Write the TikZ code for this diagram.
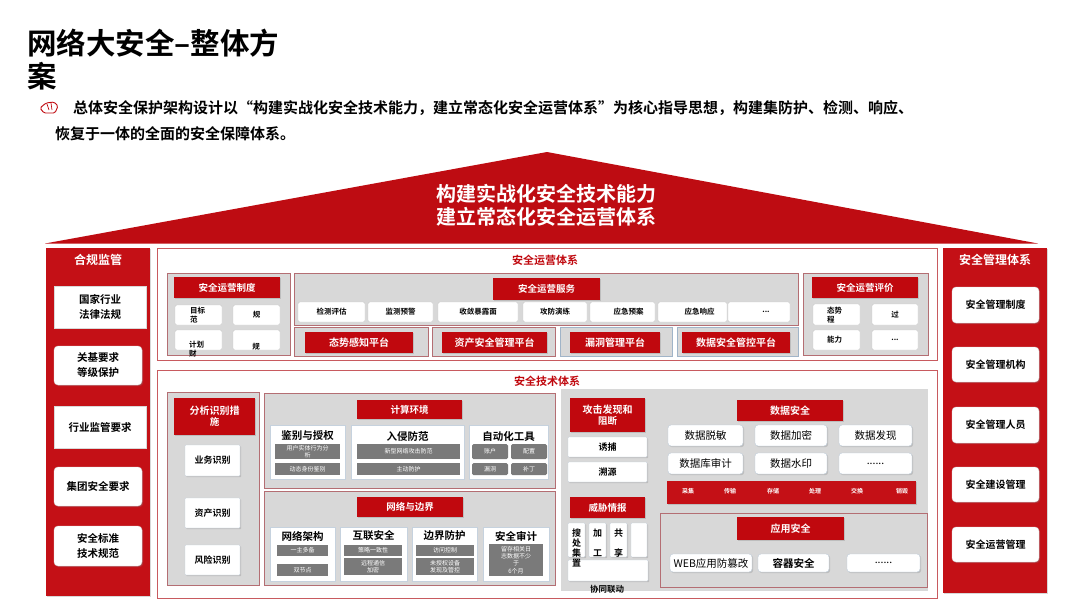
\documentclass[tikz,border=0pt]{standalone}
\usepackage{fontspec}
\setmainfont{Noto Sans CJK SC}[BoldFont={Noto Sans CJK SC Bold}]
\usetikzlibrary{shadows}
\definecolor{hred}{RGB}{192,8,14}
\definecolor{colred}{RGB}{196,16,22}
\definecolor{roofred}{RGB}{190,12,18}
\definecolor{pgray}{RGB}{216,216,216}
\definecolor{pborder}{RGB}{180,110,115}
\definecolor{outred}{RGB}{200,90,95}
\definecolor{dgray}{RGB}{122,122,122}
\definecolor{bluegray}{RGB}{160,180,200}
\newcommand\bx[7]{\node[#1,inner sep=0pt,minimum width={#5-#3},minimum height={#6-#4}] (#2) at ({(#3+#5)/2},{(#4+#6)/2}) {#7};}
\tikzset{
  shd/.style={drop shadow={opacity=0.3,shadow xshift=1.2pt,shadow yshift=-1.2pt}},
  colbox/.style={fill=colred,draw=none,shd},
  coltitle/.style={text=white,inner sep=0pt,font=\bfseries\fontsize{12}{14}\selectfont},
  wcol/.style={fill=white,draw=gray!30,rounded corners=4pt,shd,align=center,font=\bfseries\fontsize{10.5}{15}\selectfont},
  wcolsq/.style={wcol,rounded corners=0pt},
  wcolr/.style={wcol,font=\bfseries\fontsize{10}{12}\selectfont},
  mainpanel/.style={fill=white,draw=outred,line width=0.8pt},
  panel/.style={fill=pgray,draw=pborder,line width=0.9pt},
  bpanel/.style={fill=pgray,draw=bluegray,line width=0.9pt},
  graybg/.style={fill=pgray,draw=none},
  sectitle/.style={text=hred,inner sep=0pt,font=\bfseries\fontsize{11}{13}\selectfont},
  hdr/.style={fill=hred,text=white,shd,align=center,font=\bfseries\fontsize{9.5}{11}\selectfont},
  plat/.style={hdr,font=\bfseries\fontsize{10}{12}\selectfont},
  wbox/.style={fill=white,draw=gray!40,rounded corners=1.5pt,align=center,font=\bfseries\fontsize{7.5}{9}\selectfont},
  tt/.style={inner sep=0pt,align=left,font=\bfseries\fontsize{7.5}{9}\selectfont},
  wsub/.style={fill=white,draw=bluegray!60,line width=0.8pt,shd},
  subt/.style={inner sep=0pt,font=\bfseries\fontsize{10.5}{12}\selectfont},
  gitem/.style={fill=dgray,text=white,align=center,font=\fontsize{6}{7.5}\selectfont},
  wid/.style={fill=white,draw=bluegray!60,rounded corners=0.8pt,shd,align=center,font=\bfseries\fontsize{9}{11}\selectfont},
  dbox/.style={fill=white,draw=bluegray!70,rounded corners=3pt,shd,align=center,font=\fontsize{10.5}{12}\selectfont},
  bandt/.style={text=white,inner sep=0pt,font=\bfseries\fontsize{6}{7}\selectfont},
}
\begin{document}
\begin{tikzpicture}[x=1pt,y=-1pt]
\useasboundingbox (0,0) rectangle (1080,608);
\fill[white] (0,0) rectangle (1080,608);
% title
\node[anchor=base west,inner sep=0pt,font=\bfseries\fontsize{29.5}{33}\selectfont] (t1) at (27,54) {网络大安全–整体方};
\node[anchor=base west,inner sep=0pt,font=\bfseries\fontsize{29.5}{33}\selectfont] (t2) at (27,87) {案};
% icon
\draw[hred,line width=0.9pt,rounded corners=1.5pt] (40,108) -- (46,103) -- (54,102) -- (58,106) -- (55,113) -- (44,113) -- cycle;
\draw[hred,line width=0.7pt] (47,104) -- (49,110) (51,103) -- (52,110);
\node[anchor=base west,inner sep=0pt,font=\bfseries\fontsize{15}{18}\selectfont] (s1) at (73,113) {总体安全保护架构设计以“构建实战化安全技术能力，建立常态化安全运营体系”为核心指导思想，构建集防护、检测、响应、};
\node[anchor=base west,inner sep=0pt,font=\bfseries\fontsize{15}{18}\selectfont] (s2) at (55,139) {恢复于一体的全面的安全保障体系。};
% roof
\fill[roofred] (45,243.5) -- (547,152) -- (1038,243.5) -- cycle;
\node[text=white,align=center,inner sep=0pt,font=\bfseries\fontsize{20}{23}\selectfont] (roof) at (546,205) {构建实战化安全技术能力\\建立常态化安全运营体系};
% left column
\bx{colbox}{lcol}{46}{248}{150}{596}{}
\node[coltitle] (ltitle) at (98,260) {合规监管};
\bx{wcolsq}{l1}{54}{286}{146}{328}{国家行业\\法律法规}
\bx{wcol}{l2}{54}{346}{142}{385}{关基要求\\等级保护}
\bx{wcolsq}{l3}{54}{406}{146}{448}{行业监管要求}
\bx{wcol}{l4}{54}{467}{142}{506}{集团安全要求}
\bx{wcol}{l5}{54}{526}{142}{566}{安全标准\\技术规范}
% right column
\bx{colbox}{rcol}{943}{248}{1047}{593}{}
\node[coltitle] (rtitle) at (995,260) {安全管理体系};
\bx{wcolr}{r1}{952}{287}{1039}{323}{安全管理制度}
\bx{wcolr}{r2}{952}{347}{1039}{382}{安全管理机构}
\bx{wcolr}{r3}{952}{407}{1039}{443}{安全管理人员}
\bx{wcolr}{r4}{952}{467}{1039}{502}{安全建设管理}
\bx{wcolr}{r5}{952}{527}{1039}{562}{安全运营管理}
% ===== top panel
\bx{mainpanel}{ops}{157}{248}{937}{360}{}
\node[sectitle] (opst) at (545,260) {安全运营体系};
% A
\bx{panel}{pa}{167}{273}{290}{355}{}
\bx{hdr}{pah}{174}{277}{280}{298}{安全运营制度}
\bx{wbox}{pa1}{175}{305}{222}{325}{}
\bx{wbox}{pa2}{233}{305}{280}{325}{规}
\bx{wbox}{pa3}{175}{330}{222}{350}{}
\bx{wbox}{pa4}{233}{330}{280}{350}{}
\node[tt,anchor=north west] (pa1t) at (190,307) {目标\\范};
\node[tt,anchor=north west] (pa3t) at (189,341) {计划\\财};
\node[tt] (pa4t) at (256,347) {规};
% B
\bx{panel}{pb}{294}{273}{798}{325}{}
\bx{hdr}{pbh}{493}{278}{600}{300}{安全运营服务}
\bx{wbox}{b1}{298}{302}{365}{322}{检测评估}
\bx{wbox}{b2}{368}{302}{433}{322}{监测预警}
\bx{wbox}{b3}{438}{302}{518}{322}{收敛暴露面}
\bx{wbox}{b4}{523}{302}{587}{322}{攻防演练}
\bx{wbox}{b5}{590}{302}{655}{322}{\hspace*{12pt}应急预案}
\bx{wbox}{b6}{658}{302}{727}{322}{\hspace*{14pt}应急响应}
\bx{wbox}{b7}{728}{302}{790}{322}{\hspace*{14pt}...}
% C platforms
\bx{panel}{pc1}{294}{327}{428}{356}{}
\bx{plat}{c1}{305}{332}{413}{353}{态势感知平台}
\bx{panel}{pc2}{432}{327}{555}{356}{}
\bx{plat}{c2}{442}{332}{547}{353}{资产安全管理平台}
\bx{bpanel}{pc3}{560}{327}{672}{356}{}
\bx{plat}{c3}{570}{332}{660}{353}{漏洞管理平台}
\bx{bpanel}{pc4}{677}{327}{798}{356}{}
\bx{plat}{c4}{682}{332}{790}{353}{数据安全管控平台}
% D
\bx{panel}{pd}{803}{273}{928}{355}{}
\bx{hdr}{pdh}{812}{277}{918}{298}{安全运营评价}
\bx{wbox}{d1}{813}{304}{860}{325}{}
\bx{wbox}{d2}{872}{304}{918}{325}{过}
\bx{wbox}{d3}{813}{330}{860}{350}{}
\bx{wbox}{d4}{872}{330}{918}{350}{...}
\node[tt,anchor=north west] (d1t) at (827,307) {态势\\程};
\node[tt,anchor=west] (d3t) at (827,340) {能力};
% ===== lower panel
\bx{mainpanel}{tech}{157}{370}{937}{598}{}
\node[sectitle] (techt) at (547,381) {安全技术体系};
% E
\bx{panel}{pe}{167}{392}{259}{585}{}
\bx{hdr}{peh}{174}{398}{255}{435}{\fontsize{10}{13}\selectfont 分析识别措\\施}
\bx{wid}{e1}{185}{445}{240}{476}{业务识别}
\bx{wid}{e2}{185}{498}{240}{528}{资产识别}
\bx{wid}{e3}{185}{545}{240}{575}{风险识别}
% F
\bx{panel}{pf}{264}{393}{555}{488}{}
\bx{hdr}{pfh}{357}{400}{462}{419}{计算环境}
\bx{wsub}{f1}{270}{425}{345}{479}{}
\bx{wsub}{f2}{351}{425}{464}{479}{}
\bx{wsub}{f3}{469}{425}{548}{479}{}
\node[subt] (f1t) at (307.5,436) {鉴别与授权};
\node[subt] (f2t) at (407.5,436) {入侵防范};
\node[subt] (f3t) at (508.5,436) {自动化工具};
\bx{gitem}{f1a}{275}{444}{340}{459}{用户实体行为分\\析}
\bx{gitem}{f1b}{275}{463}{340}{475}{动态身份鉴别}
\bx{gitem}{f2a}{357}{444}{460}{459}{新型网络攻击防范}
\bx{gitem}{f2b}{357}{463}{460}{475}{主动防护}
\bx{gitem,rounded corners=1.5pt}{f3a}{472}{444}{508}{459}{账户}
\bx{gitem,rounded corners=1.5pt}{f3b}{511}{444}{547}{459}{配置}
\bx{gitem,rounded corners=1.5pt}{f3c}{472}{463}{508}{475}{漏洞}
\bx{gitem,rounded corners=1.5pt}{f3d}{511}{463}{547}{475}{补丁}
% G
\bx{panel}{pg}{264}{491}{555}{585}{}
\bx{hdr}{pgh}{357}{497}{463}{517}{网络与边界}
\bx{wsub}{g1}{270}{527}{335}{581}{}
\bx{wsub}{g2}{340}{527}{407}{581}{}
\bx{wsub}{g3}{412}{527}{477}{581}{}
\bx{wsub}{g4}{483}{527}{549}{581}{}
\node[subt] (g1t) at (302.5,536) {网络架构};
\node[subt] (g2t) at (373.5,536) {互联安全};
\node[subt] (g3t) at (444.5,536) {边界防护};
\node[subt] (g4t) at (516,536) {安全审计};
\bx{gitem}{g1a}{277}{545}{328}{556}{一主多备}
\bx{gitem}{g1b}{277}{564}{328}{576}{双节点}
\bx{gitem}{g2a}{344}{545}{402}{556}{策略一致性}
\bx{gitem}{g2b}{344}{558}{402}{575}{远程通信\\加密}
\bx{gitem}{g3a}{416}{545}{474}{556}{访问控制}
\bx{gitem}{g3b}{416}{558}{474}{575}{未授权设备\\发现及管控}
\bx{gitem,font=\fontsize{6}{7.2}\selectfont}{g4a}{489}{544}{543}{576}{留存相关日\\志数据不少\\于\\6个月}
% H
\bx{graybg}{ph}{561}{389}{928}{591}{}
\bx{hdr}{phh}{570}{398}{645}{432}{\fontsize{10}{13}\selectfont 攻击发现和\\阻断}
\bx{wid}{h1}{568}{437}{647}{457}{诱捕}
\bx{wid}{h2}{568}{462}{647}{482}{溯源}
\bx{hdr}{phi}{570}{497}{645}{518}{威胁情报}
\bx{wid}{i1}{568}{523}{585}{557}{}
\bx{wid}{i2}{589}{523}{606}{557}{}
\bx{wid}{i3}{610}{523}{627}{557}{}
\bx{wid}{i4}{631}{523}{647}{557}{}
\bx{wid}{i5}{568}{560}{648}{581}{}
\node[inner sep=0pt,align=center,font=\bfseries\fontsize{9}{9.8}\selectfont,anchor=north] (i1t) at (576.5,529) {搜\\处\\集\\置};
\node[inner sep=0pt,align=center,font=\bfseries\fontsize{9}{20}\selectfont,anchor=north] (i2t) at (597.5,529) {加\\工};
\node[inner sep=0pt,align=center,font=\bfseries\fontsize{9}{20}\selectfont,anchor=north] (i3t) at (618.5,529) {共\\享};
\node[inner sep=0pt,font=\bfseries\fontsize{8.5}{10}\selectfont] (i5t) at (607,589) {协同联动};
% data security
\bx{hdr}{dsh}{737}{400}{843}{421}{\fontsize{10}{12}\selectfont 数据安全}
\bx{dbox}{ds1}{668}{425}{743}{446}{数据脱敏}
\bx{dbox}{ds2}{755}{425}{827}{446}{数据加密}
\bx{dbox}{ds3}{839}{425}{912}{446}{数据发现}
\bx{dbox}{ds4}{668}{453}{743}{474}{数据库审计}
\bx{dbox}{ds5}{755}{453}{827}{474}{数据水印}
\bx{dbox}{ds6}{839}{453}{912}{474}{......}
\bx{colbox}{band}{667}{481}{916}{504}{}
\node[bandt] (bd1) at (688,491) {采集};
\node[bandt] (bd2) at (730,491) {传输};
\node[bandt] (bd3) at (773,491) {存储};
\node[bandt] (bd4) at (815,491) {处理};
\node[bandt] (bd5) at (857,491) {交换};
\node[bandt] (bd6) at (902,491) {销毁};
% app security
\bx{panel}{pap}{660}{513}{927}{587}{}
\bx{hdr}{aph}{737}{517}{844}{540}{\fontsize{10}{12}\selectfont 应用安全}
\bx{dbox}{ap1}{670}{554}{752}{572}{WEB应用防篡改}
\bx{dbox}{ap2}{758}{554}{829}{572}{\bfseries 容器安全}
\bx{dbox}{ap3}{847}{554}{920}{572}{......}
\end{tikzpicture}
\end{document}
